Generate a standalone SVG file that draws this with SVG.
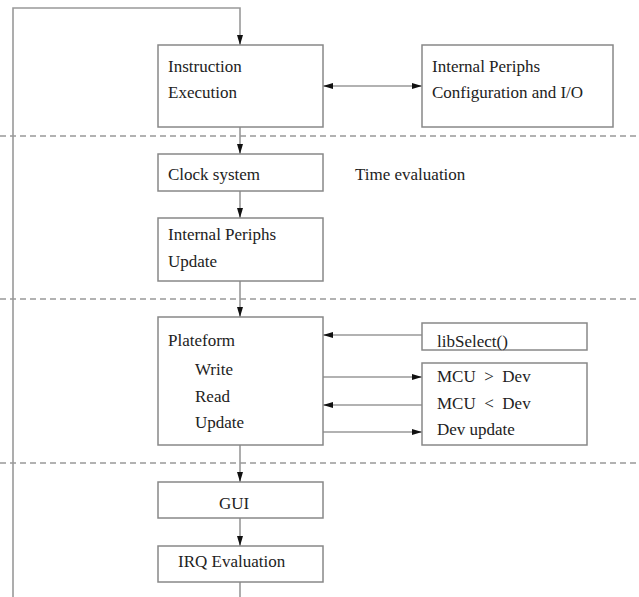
<svg xmlns="http://www.w3.org/2000/svg" width="639" height="597" viewBox="0 0 639 597">
<defs>
<marker id="ah" viewBox="0 0 10 6" refX="10" refY="3" markerWidth="10" markerHeight="6" markerUnits="userSpaceOnUse" orient="auto-start-reverse">
<path d="M0,0 L10,3 L0,6 z" fill="#111"/>
</marker>
<style>
.box{fill:#fff;stroke:#888;stroke-width:1.5}
.ln{fill:none;stroke:#999;stroke-width:1.6}
.dash{fill:none;stroke:#666;stroke-width:1.2;stroke-dasharray:6 4}
text{font-family:"Liberation Serif","DejaVu Serif",serif;font-size:17px;fill:#222}
</style>
</defs>
<rect width="639" height="597" fill="#fff"/>
<g id="separators">
<line class="dash" x1="0" y1="136" x2="639" y2="136"/>
<line class="dash" x1="0" y1="299" x2="639" y2="299"/>
<line class="dash" x1="0" y1="463" x2="639" y2="463"/>
</g>
<g id="connectors">
<path class="ln" d="M240,597 V582"/>
<path class="ln" d="M13,597 V8 H240 V45" marker-end="url(#ah)"/>
<path class="ln" d="M240,127 V154" marker-end="url(#ah)"/>
<path class="ln" d="M240,191 V218" marker-end="url(#ah)"/>
<path class="ln" d="M240,281 V317" marker-end="url(#ah)"/>
<path class="ln" d="M240,445 V482" marker-end="url(#ah)"/>
<path class="ln" d="M240,518 V546" marker-end="url(#ah)"/>
<path class="ln" d="M323,86 H422" marker-start="url(#ah)" marker-end="url(#ah)"/>
<path class="ln" d="M422,335 H323" marker-end="url(#ah)"/>
<path class="ln" d="M323,377 H422" marker-end="url(#ah)"/>
<path class="ln" d="M422,405 H323" marker-end="url(#ah)"/>
<path class="ln" d="M323,432 H422" marker-end="url(#ah)"/>
</g>
<g id="instruction-execution">
<rect class="box" x="158" y="45" width="165" height="82"/>
<text x="168" y="72">Instruction</text>
<text x="168" y="98">Execution</text>
</g>
<g id="internal-periphs-config">
<rect class="box" x="422" y="45" width="191" height="82"/>
<text x="432" y="72">Internal Periphs</text>
<text x="432" y="98">Configuration and I/O</text>
</g>
<g id="clock-system">
<rect class="box" x="158" y="154" width="165" height="37"/>
<text x="168" y="180">Clock system</text>
</g>
<g id="time-evaluation">
<text x="355" y="180">Time evaluation</text>
</g>
<g id="internal-periphs-update">
<rect class="box" x="158" y="218" width="165" height="63"/>
<text x="168" y="240">Internal Periphs</text>
<text x="168" y="267">Update</text>
</g>
<g id="plateform">
<rect class="box" x="158" y="317" width="165" height="128"/>
<text x="168" y="346">Plateform</text>
<text x="195" y="375">Write</text>
<text x="195" y="402">Read</text>
<text x="195" y="428">Update</text>
</g>
<g id="libselect">
<rect class="box" x="422" y="323" width="165" height="27"/>
<text x="437" y="347">libSelect()</text>
</g>
<g id="mcu-dev">
<rect class="box" x="422" y="363" width="165" height="82"/>
<text x="437" y="382" xml:space="preserve">MCU  &gt;  Dev</text>
<text x="437" y="409" xml:space="preserve">MCU  &lt;  Dev</text>
<text x="437" y="435">Dev update</text>
</g>
<g id="gui">
<rect class="box" x="158" y="482" width="165" height="36"/>
<text x="234" y="509" text-anchor="middle">GUI</text>
</g>
<g id="irq-evaluation">
<rect class="box" x="158" y="546" width="165" height="36"/>
<text x="178" y="567">IRQ Evaluation</text>
</g>
</svg>
